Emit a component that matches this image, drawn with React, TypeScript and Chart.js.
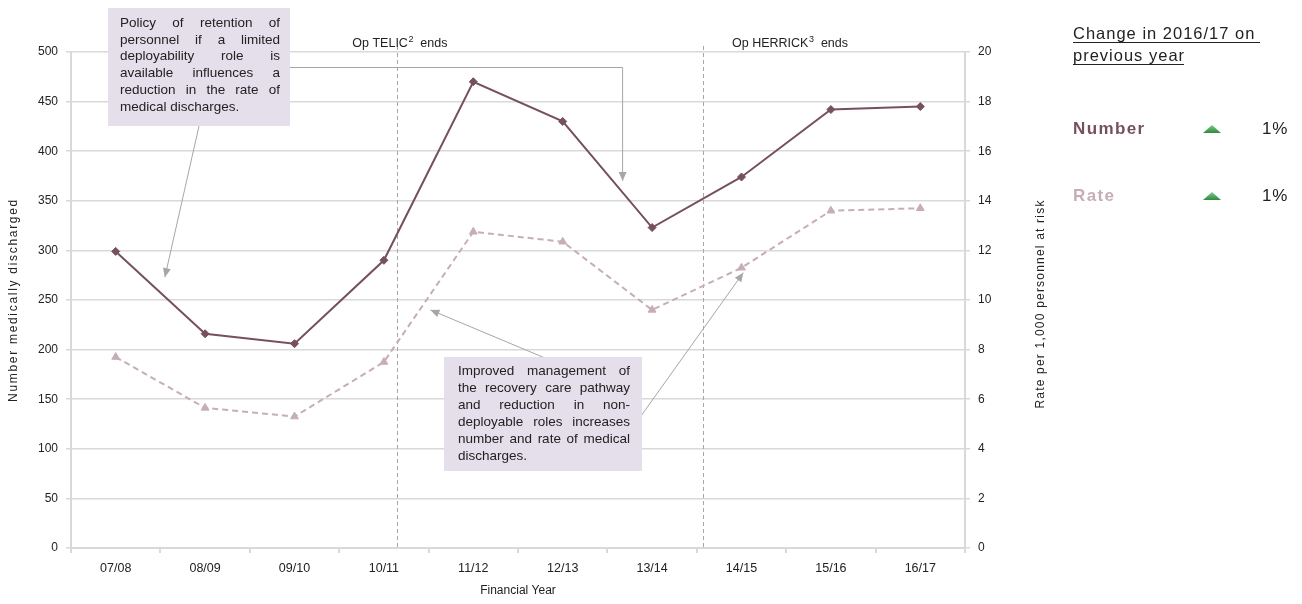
import { useEffect, useRef } from "react";
import { Chart, registerables } from "chart.js";

Chart.register(...registerables);

// Financial years and the two series
const years = ["07/08", "08/09", "09/10", "10/11", "11/12", "12/13", "13/14", "14/15", "15/16", "16/17"];
const numberDischarged = [299, 216, 206, 290, 470, 430, 323, 374, 442, 445];
const ratePer1000 = [7.7, 5.65, 5.3, 7.5, 12.75, 12.35, 9.6, 11.3, 13.6, 13.7];

// Operation end markers: position along the category axis (fractional index)
const opNames = ["Op TELIC", "Op HERRICK"];
const opNotes = ["2", "3"];
const opAt = [3.15, 6.57];

// Change panel rows
const changeLabels = ["Number", "Rate"];
const changeValues = ["1%", "1%"];

const NUMBER_COLOR = "#76505f";
const RATE_COLOR = "#c6aeb4";
const GRID = "#d9d9d9";
const TEXT = "#222222";
const NOTE_FILL = "#e4dfeb";
const ARROW = "#a6a6a6";
const FONT = "'Liberation Sans', Arial, sans-serif";

const policyNote = [
  "Policy of retention of",
  "personnel if a limited",
  "deployability role is",
  "available influences a",
  "reduction in the rate of",
  "medical discharges.",
];
const recoveryNote = [
  "Improved management of",
  "the recovery care pathway",
  "and reduction in non-",
  "deployable roles increases",
  "number and rate of medical",
  "discharges.",
];

function setSpacing(ctx: any, px: number) {
  if ("letterSpacing" in ctx) ctx.letterSpacing = `${px}px`;
}

function drawJustified(
  ctx: CanvasRenderingContext2D,
  lines: string[],
  x: number,
  y: number,
  width: number,
  lineHeight: number
) {
  lines.forEach((line, i) => {
    const ly = y + i * lineHeight;
    const words = line.split(" ");
    if (i === lines.length - 1 || words.length < 2) {
      ctx.fillText(line, x, ly);
      return;
    }
    const total = words.reduce((s, w) => s + ctx.measureText(w).width, 0);
    const gap = (width - total) / (words.length - 1);
    let cx = x;
    words.forEach((w) => {
      ctx.fillText(w, cx, ly);
      cx += ctx.measureText(w).width + gap;
    });
  });
}

function arrowHead(ctx: CanvasRenderingContext2D, fx: number, fy: number, tx: number, ty: number) {
  const ang = Math.atan2(ty - fy, tx - fx);
  const len = 9;
  const half = 4;
  ctx.beginPath();
  ctx.moveTo(tx, ty);
  ctx.lineTo(tx - len * Math.cos(ang) + half * Math.sin(ang), ty - len * Math.sin(ang) - half * Math.cos(ang));
  ctx.lineTo(tx - len * Math.cos(ang) - half * Math.sin(ang), ty - len * Math.sin(ang) + half * Math.cos(ang));
  ctx.closePath();
  ctx.fill();
}

function arrowPath(ctx: CanvasRenderingContext2D, pts: number[][]) {
  ctx.beginPath();
  ctx.moveTo(pts[0][0], pts[0][1]);
  for (let i = 1; i < pts.length; i++) ctx.lineTo(pts[i][0], pts[i][1]);
  ctx.stroke();
  const a = pts[pts.length - 2];
  const b = pts[pts.length - 1];
  arrowHead(ctx, a[0], a[1], b[0], b[1]);
}

function verticalTitle(ctx: CanvasRenderingContext2D, text: string, x: number, y: number, spacing: number) {
  ctx.save();
  ctx.translate(x, y);
  ctx.rotate(-Math.PI / 2);
  ctx.font = `12px ${FONT}`;
  setSpacing(ctx, spacing);
  ctx.fillStyle = TEXT;
  ctx.textAlign = "center";
  ctx.textBaseline = "middle";
  ctx.fillText(text, 0, 0);
  ctx.restore();
}

const operationLines = {
  id: "operationLines",
  beforeDatasetsDraw(chart: any) {
    const { ctx, chartArea, scales } = chart;
    ctx.save();
    ctx.strokeStyle = "#a6a6a6";
    ctx.lineWidth = 1;
    ctx.setLineDash([4, 3]);
    opAt.forEach((v) => {
      const x = Math.round(scales.x.getPixelForValue(v)) + 0.5;
      ctx.beginPath();
      ctx.moveTo(x, 46);
      ctx.lineTo(x, chartArea.bottom);
      ctx.stroke();
    });
    ctx.setLineDash([]);
    ctx.fillStyle = TEXT;
    ctx.textBaseline = "alphabetic";
    const offsets = [-45, 29];
    opAt.forEach((v, i) => {
      const x = scales.x.getPixelForValue(v) + offsets[i];
      ctx.font = `12.5px ${FONT}`;
      ctx.fillText(opNames[i], x, 47);
      let w = ctx.measureText(opNames[i]).width;
      ctx.font = `9px ${FONT}`;
      ctx.fillText(opNotes[i], x + w + 0.5, 42);
      w += ctx.measureText(opNotes[i]).width + 0.5;
      ctx.font = `12.5px ${FONT}`;
      ctx.fillText("  ends", x + w, 47);
    });
    ctx.restore();

    // Rotated axis titles
    verticalTitle(ctx, "Number medically discharged", 14, 300, 1.7);
    verticalTitle(ctx, "Rate per 1,000 personnel at risk", 1041, 304, 1.2);
  },
};

const notes = {
  id: "notes",
  afterDatasetsDraw(chart: any) {
    const { ctx, scales } = chart;
    const xs = scales.x;
    const yl = scales.y;
    const yr = scales.y1;
    ctx.save();
    ctx.strokeStyle = ARROW;
    ctx.fillStyle = ARROW;
    ctx.lineWidth = 1;

    // Policy note arrows
    arrowPath(ctx, [
      [199, 126],
      [xs.getPixelForValue(0.55), yl.getPixelForValue(273)],
    ]);
    const ex = xs.getPixelForValue(5.67);
    arrowPath(ctx, [
      [290, 67.5],
      [ex, 67.5],
      [ex, yl.getPixelForValue(370)],
    ]);
    // Recovery note arrows
    arrowPath(ctx, [
      [545, 358],
      [xs.getPixelForValue(3.52), yl.getPixelForValue(240)],
    ]);
    arrowPath(ctx, [
      [641, 416],
      [xs.getPixelForValue(7.02), yr.getPixelForValue(11.1)],
    ]);

    // Note boxes
    ctx.fillStyle = NOTE_FILL;
    ctx.fillRect(108, 8, 182, 118);
    ctx.fillRect(444, 357, 198, 114);

    ctx.fillStyle = TEXT;
    ctx.textBaseline = "middle";
    ctx.font = `13.5px ${FONT}`;
    drawJustified(ctx, policyNote, 120, 23, 160, 16.8);
    drawJustified(ctx, recoveryNote, 458, 371, 172, 17);
    ctx.restore();
  },
};

const changePanel = {
  id: "changePanel",
  afterDraw(chart: any) {
    const { ctx } = chart;
    ctx.save();
    ctx.fillStyle = TEXT;
    ctx.strokeStyle = TEXT;
    ctx.lineWidth = 1;
    ctx.textBaseline = "alphabetic";
    ctx.font = `16.5px ${FONT}`;
    setSpacing(ctx, 1);
    const title = ["Change in 2016/17 on ", "previous year"];
    title.forEach((t, i) => {
      const by = 39 + i * 22;
      ctx.fillText(t, 1073, by);
      const w = ctx.measureText(t).width;
      ctx.beginPath();
      ctx.moveTo(1073, by + 3.5);
      ctx.lineTo(1073 + w - 1, by + 3.5);
      ctx.stroke();
    });
    const rowColors = [NUMBER_COLOR, RATE_COLOR];
    changeLabels.forEach((lab, i) => {
      const cy = 129 + i * 67;
      ctx.textBaseline = "middle";
      ctx.font = `bold 17px ${FONT}`;
      setSpacing(ctx, 1.4);
      ctx.fillStyle = rowColors[i];
      ctx.fillText(lab, 1073, cy);
      // up triangle
      const g = ctx.createLinearGradient(0, cy - 4, 0, cy + 4);
      g.addColorStop(0, "#7fcb8b");
      g.addColorStop(1, "#2f8a3f");
      ctx.fillStyle = g;
      ctx.beginPath();
      ctx.moveTo(1212, cy - 4);
      ctx.lineTo(1221, cy + 4);
      ctx.lineTo(1203, cy + 4);
      ctx.closePath();
      ctx.fill();
      ctx.fillStyle = TEXT;
      ctx.font = `17px ${FONT}`;
      setSpacing(ctx, 0.8);
      ctx.fillText(changeValues[i], 1262, cy);
    });
    ctx.restore();
  },
};

export default function App() {
  const ref = useRef<HTMLCanvasElement | null>(null);

  useEffect(() => {
    if (!ref.current) return;
    const tickFont = { family: FONT, size: 12 };
    const chart = new Chart(ref.current, {
      type: "line",
      data: {
        labels: years,
        datasets: [
          {
            label: "Number",
            data: numberDischarged,
            yAxisID: "y",
            borderColor: NUMBER_COLOR,
            backgroundColor: NUMBER_COLOR,
            borderWidth: 2,
            pointStyle: "rectRot",
            pointRadius: 4,
            pointBorderWidth: 1,
            tension: 0,
          },
          {
            label: "Rate",
            data: ratePer1000,
            yAxisID: "y1",
            borderColor: RATE_COLOR,
            backgroundColor: RATE_COLOR,
            borderWidth: 2,
            borderDash: [6, 4],
            pointStyle: "triangle",
            pointRadius: 4.5,
            pointBorderWidth: 1,
            tension: 0,
          },
        ],
      },
      options: {
        animation: false,
        responsive: true,
        maintainAspectRatio: false,
        layout: { padding: { top: 52, right: 242, left: 0, bottom: 0 } },
        plugins: { legend: { display: false }, tooltip: { enabled: false } },
        scales: {
          x: {
            type: "category",
            offset: true,
            grid: { offset: true, drawOnChartArea: false, drawTicks: true, tickLength: 5, color: GRID, lineWidth: 2 },
            border: { color: GRID, width: 2 },
            ticks: { font: { family: FONT, size: 12.5 }, color: TEXT, padding: 8, maxRotation: 0 },
            title: { display: true, text: "Financial Year", font: tickFont, color: TEXT, padding: { top: 4, bottom: 6 } },
            afterFit: (s: any) => {
              s.height = 56;
            },
          },
          y: {
            position: "left",
            min: 0,
            max: 500,
            ticks: { stepSize: 50, font: tickFont, color: TEXT, padding: 8 },
            grid: { color: GRID, tickLength: 5, lineWidth: 1.5 },
            border: { color: GRID, width: 2 },
            afterFit: (s: any) => {
              s.width = 71;
            },
          },
          y1: {
            position: "right",
            min: 0,
            max: 20,
            ticks: { stepSize: 2, font: tickFont, color: TEXT, padding: 8 },
            grid: { drawOnChartArea: false, color: GRID, tickLength: 5, lineWidth: 1.5 },
            border: { color: GRID, width: 2 },
            afterFit: (s: any) => {
              s.width = 95;
            },
          },
        },
      },
      plugins: [operationLines, notes, changePanel],
    });
    return () => chart.destroy();
  }, []);

  return (
    <div style={{ position: "absolute", left: 0, top: 0, width: 1302, height: 604, background: "#fff" }}>
      <canvas ref={ref} />
    </div>
  );
}
